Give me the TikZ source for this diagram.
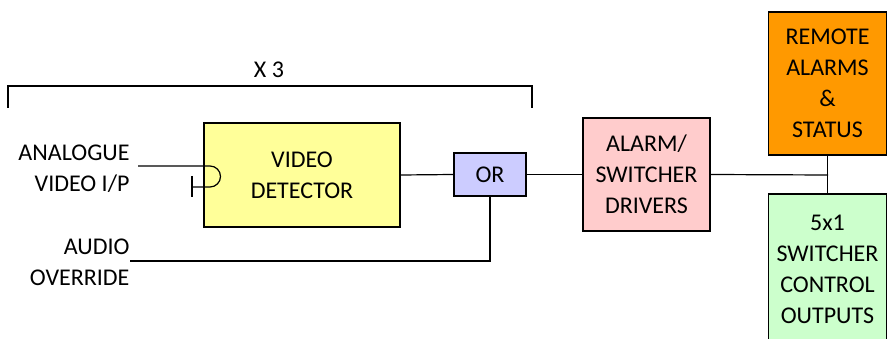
\documentclass[tikz,border=0pt]{standalone}
\usepackage{fontspec}
\setmainfont{Carlito}
\usepackage{xcolor}
\usepackage{tikz}

\definecolor{detyellow}{HTML}{FFFF99}
\definecolor{orblue}{HTML}{CCCCFF}
\definecolor{drvpink}{HTML}{FFCCCC}
\definecolor{remorange}{HTML}{FF9900}
\definecolor{swgreen}{HTML}{CCFFCC}

\begin{document}
\begin{tikzpicture}[x=1pt, y=1pt,
  every node/.style={font=\fontsize{24}{31}\selectfont, align=center},
  block/.style={draw, line width=1.6pt, inner sep=0pt},
  wire/.style={line width=1.2pt},
  yellow/.style={fill=detyellow},
  blue/.style={fill=orblue},
  pink/.style={fill=drvpink},
  orange/.style={fill=remorange},
  green/.style={fill=swgreen}
]
\useasboundingbox (0,0) rectangle (887,338);
\clip (0,0) rectangle (887,338);
% blocks
\node[block, yellow, minimum width=196pt, minimum height=104pt] (det) at (302,163) {VIDEO\\DETECTOR};
\node[block, blue, minimum width=72pt, minimum height=43pt] (or) at (490,163.5) {OR};
\node[block, pink, minimum width=127pt, minimum height=113pt] (drv) at (646.5,163.5) {ALARM/\\SWITCHER\\DRIVERS};
\node[block, orange, minimum width=118pt, minimum height=143pt] (rem) at (827.5,254.5) {REMOTE\\ALARMS\\\&\\STATUS};
\node[block, green, minimum width=118pt, minimum height=150pt] (sw) at (827.5,69) {5x1\\SWITCHER\\CONTROL\\OUTPUTS};
% inputs
\node[anchor=east, align=right] (vin) at (133,169.5) {ANALOGUE\\VIDEO I/P};
\node[anchor=east, align=right] (ain) at (133,76) {AUDIO\\OVERRIDE};
\coordinate (vstart) at (138,172);
\coordinate (astart) at (130,77);
\coordinate (jn) at (828,163);
% x3 bracket
\node (x3) at (269,268) {X 3};
\draw[wire] (8,230) -- (8,252) -- (532,252) -- (532,230);
% connectors
\draw[wire] (vstart) -- (210,172) arc (90:-90:10.5) -- (192,151);
\draw[wire] (192,162) -- (192,141);
\draw[wire] (det.east) -- (or.west);
\draw[wire] (or.east) -- (drv.west);
\draw[wire] (astart) -| (or.south);
\draw[wire] (drv.east) -- (jn);
\draw[wire] (rem.south) -- (sw.north);
\end{tikzpicture}
\end{document}
